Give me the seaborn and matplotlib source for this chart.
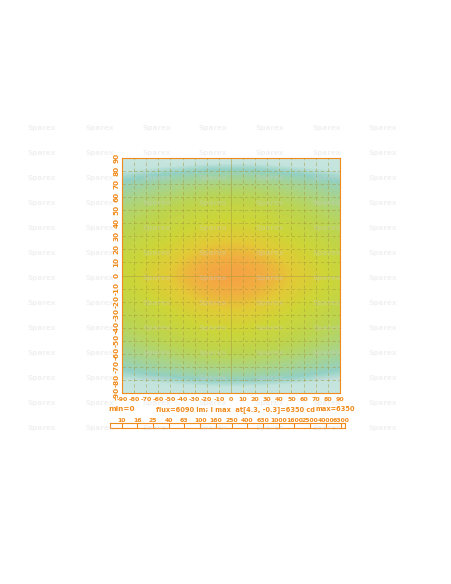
import numpy as np
import matplotlib
matplotlib.use("Agg")
import matplotlib.pyplot as plt
import seaborn as sns
from matplotlib.colors import LinearSegmentedColormap, LogNorm

sns.set_style("white")
plt.rcParams['font.family'] = ['DejaVu Sans']

angles = list(range(-90, 91, 10))
# vertical intensity profile (cd), -90..90
vert_cd = [0, 150, 600, 1200, 2000, 2800, 3700, 4700, 5700, 6350, 5700, 4700, 3700, 2800, 2000, 1200, 600, 150, 0]
# horizontal relative factor, -90..90
horiz_rel = [0.35, 0.42, 0.5, 0.58, 0.67, 0.76, 0.85, 0.93, 0.98, 1.0, 0.98, 0.93, 0.85, 0.76, 0.67, 0.58, 0.5, 0.42, 0.35]
scale_labels = ["10", "16", "25", "40", "63", "100", "160", "250", "400", "630", "1000", "1600", "2500", "4000", "6300"]
tick_vals = list(range(-90, 91, 10))

ORANGE = "#f08a1a"
FS = 5.2
grid = np.outer(np.array(vert_cd, float), np.array(horiz_rel)) + 1.0

cmap = LinearSegmentedColormap.from_list("lux", [
    (0.0, "#cde8e2"), (0.5, "#c3e4dd"), (0.6, "#93d0c4"), (0.72, "#a9d48a"),
    (0.82, "#bcd450"), (0.9, "#cdd638"), (0.95, "#e2ca36"), (0.98, "#f0b040"), (1.0, "#f6a244")])

fig = plt.figure(figsize=(4.52, 5.84), dpi=100)
ax = fig.add_axes([0.270, 0.327, 0.482, 0.4025])
ax.imshow(grid, extent=[-95, 95, -95, 95], origin="lower", cmap=cmap,
          norm=LogNorm(vmin=1, vmax=6350), interpolation="bicubic", aspect="auto")
ax.set_xlim(-90, 90); ax.set_ylim(-90, 90)
for v in tick_vals:
    ls = "-" if v == 0 else (0, (4, 3))
    ax.axvline(v, color="#a89a40", lw=0.6, ls=ls, alpha=0.6)
    ax.axhline(v, color="#a89a40", lw=0.6, ls=ls, alpha=0.6)
ax.set_xticks(tick_vals); ax.set_yticks(tick_vals)
ax.set_xticklabels([str(t) for t in tick_vals], color=ORANGE, fontsize=4.5, fontweight="bold")
ax.set_yticklabels([str(t) for t in tick_vals], color=ORANGE, fontsize=FS, fontweight="bold", rotation=90, va="center")
ax.tick_params(axis="x", length=3, direction="in", color=ORANGE, pad=2.5)
ax.tick_params(axis="y", length=3, direction="in", color=ORANGE, pad=2)
for s in ax.spines.values():
    s.set_color(ORANGE); s.set_linewidth(0.8)

fig.text(0.24, 0.296, "min=0", color=ORANGE, fontsize=FS, fontweight="bold")
fig.text(0.345, 0.296, "flux=6090 lm; I max  at[4.3, -0.3]=6350 cd", color=ORANGE, fontsize=4.8, fontweight="bold")
fig.text(0.785, 0.296, "max=6350", color=ORANGE, fontsize=4.8, fontweight="bold", ha="right")

cax = fig.add_axes([0.243, 0.267, 0.521, 0.009])
cax.set_xlim(0, 15); cax.set_ylim(0, 1)
cax.set_yticks([])
cax.set_xticks([i + 0.75 for i in range(15)])
cax.set_xticklabels(scale_labels, color=ORANGE, fontsize=4.4, fontweight="bold")
cax.xaxis.tick_top()
cax.tick_params(length=3, direction="in", color=ORANGE, pad=0)
for i in range(15):
    cax.axvline(i + 0.75, color=ORANGE, lw=0.6)
for s in cax.spines.values():
    s.set_color(ORANGE); s.set_linewidth(0.8)

for xs in [42, 100, 157, 213, 270, 327, 383]:
    for ys in range(128, 440, 25):
        fig.text(xs / 452, 1 - ys / 584, "Sparex", color="#d0d0d0", alpha=0.3,
                 fontsize=FS, fontweight="bold", ha="center", va="center", zorder=10)

fig.savefig("out.png", dpi=100, facecolor="white")
